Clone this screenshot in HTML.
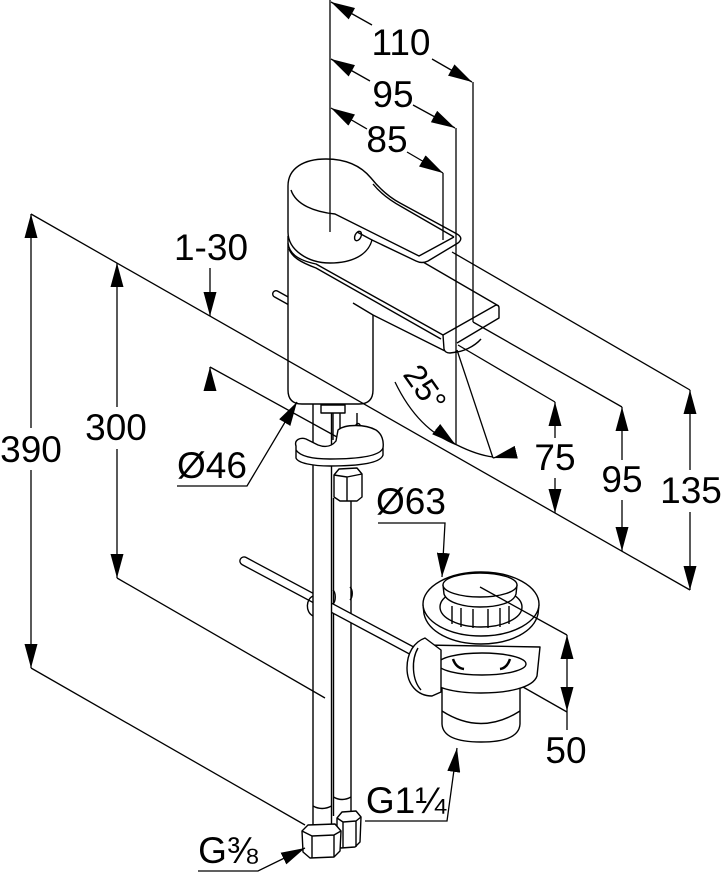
<!DOCTYPE html>
<html><head><meta charset="utf-8"><style>
html,body{margin:0;padding:0;background:#fff;}
svg{display:block;}
text{font-family:"Liberation Sans",Arial,sans-serif;font-size:37px;fill:#000;stroke:none;}
</style></head><body>
<svg width="722" height="874" viewBox="0 0 722 874" xmlns="http://www.w3.org/2000/svg">
<defs>
<marker id="a" viewBox="0 0 24 13" refX="24" refY="6.5" markerWidth="24" markerHeight="13" markerUnits="userSpaceOnUse" orient="auto-start-reverse"><path d="M0,0L24,6.5L0,13Z" fill="#000"/></marker>
</defs>
<rect width="722" height="874" fill="#fff"/>

<g fill="none" stroke="#000" stroke-width="1.4" stroke-linejoin="round">
<!-- pull rod stub -->
<line x1="276" y1="294" x2="294" y2="304" stroke-width="8" stroke-linecap="round"/>
<line x1="276" y1="294" x2="294" y2="304" stroke="#fff" stroke-width="5.2" stroke-linecap="round"/>

<!-- right hose -->
<rect x="333.5" y="498" width="17.5" height="318" fill="#fff" stroke="none"/>
<path d="M333.5,498V816M351,498V816"/>
<path d="M333.5,797Q342,802 351,797"/>

<!-- pop-up rod -->
<line x1="244" y1="561" x2="420" y2="655" stroke-width="9.5" stroke-linecap="round"/>
<line x1="244" y1="561" x2="420" y2="655" stroke="#fff" stroke-width="6.8" stroke-linecap="round"/>
<path d="M333,590C336,593 336,601 333,604M350,587C353,590 353,597 350,600"/>

<!-- left hose -->
<rect x="313" y="404" width="18.5" height="424" fill="#fff" stroke="none"/>
<path d="M313,404V828M331.5,404V828"/>
<path d="M313,596C306,599 305,612 313,616"/>
<path d="M313,806Q322,811 331.5,806"/>

<!-- shank / stud -->
<rect x="321" y="405" width="24" height="8" fill="#fff"/>
<path d="M333,413V440M340,413V440M357,413V437"/>
<ellipse cx="358" cy="427" rx="2.5" ry="3.5"/>

<!-- bracket -->
<path d="M296,446C294,440 300,437 306,439L318,445C326,448 332,446 336,441L338,430C345,424 365,424 376,430C382,434 384,441 383,448L383,455C381,462 365,466 330,466C312,466 298,463 296,458Z" fill="#fff"/>
<path d="M296,450C300,456 312,459 330,459C360,459 380,456 383,448"/>

<!-- hex nut -->
<path d="M334,475L339,469L357,468L362,474L362,497L357,501L340,501L334,497Z" fill="#fff"/>
<path d="M334,475L347,477L362,474M347,477V501"/>

<!-- body -->
<path d="M288,236L288,390Q288,404 302,404L359,404Q373,404 373,390L373,316L353,303L316,264L288,246Z" fill="#fff" stroke="none"/>
<path d="M288,236L288,390Q288,404 302,404L359,404Q373,404 373,390L373,315"/>
<path d="M353,303L373,315L445,351"/>

<!-- spout top face -->
<path d="M288,243C289,253 297,260 316,264L443,335L497,305L423,262L372,240Z" fill="#fff" stroke="none"/>
<path d="M288,243C289,253 297,260 316,264L443,335"/>
<path d="M289,249C292,257 300,262 316,268L441,339"/>
<path d="M423,262L497,305"/>
<!-- spout front -->
<path d="M443,335L496,305Q499,305 499,308L499,318L457,343"/>
<path d="M443,335L444,349Q445,353 450,353L457,352"/>
<path d="M455,352C462,352 474,347 481,339"/>

<!-- handle -->
<path d="M288,232L288,186C288,168 304,159 326,159C347,159 361,166 371,178C379,188 389,197 400,203L457,234Q464,238 458,243L428,261Q422,264 416,261L372,240C368,255 352,263 330,263C308,263 288,250 288,232Z" fill="#fff"/>
<path d="M357,232L372,240"/>
<path d="M291,190C296,205 315,212 335,214L419,256L454,237"/>
<path d="M373,184C381,194 391,201 402,207L454,237"/>
<ellipse cx="358" cy="236" rx="3" ry="5" transform="rotate(25 358 236)"/>

<!-- drain lower cylinder -->
<path d="M442,686L442,724Q443,742 481,742Q519,742 520,724L520,686Z" fill="#fff"/>
<path d="M442,711Q481,736 520,711"/>
<!-- ring -->
<path d="M423,645L427,676C431,688 455,693 481,693C507,693 533,688 537,676L540,647Z" fill="#fff"/>
<ellipse cx="482" cy="664" rx="44" ry="11" fill="#fff"/>
<path d="M453,659Q456,668 464,669M500,669Q507,668 510,659" stroke-width="2.5"/>
<!-- clevis -->
<path d="M425,638C414,642 407,653 407,668C407,684 417,696 432,696L441,692L441,650Z" fill="#fff"/>
<path d="M418,648C411,660 412,680 421,690"/>
<!-- flange -->
<path d="M423,605L424,614C428,632 452,644 481,644C510,644 534,632 538,614L539,605Z" fill="#fff"/>
<ellipse cx="481" cy="604" rx="58" ry="32" fill="#fff"/>
<ellipse cx="481" cy="607" rx="41" ry="20" fill="#fff"/>
<path d="M452,606V624M461,608V627M473,609V628M488,609V628M500,608V627M509,606V624"/>
<!-- cap -->
<path d="M443,585L444,594C447,603 465,607 480,607C497,607 514,603 516,594L517,585Z" fill="#fff"/>
<ellipse cx="480" cy="585" rx="37" ry="12" fill="#fff"/>

<!-- bottom nuts -->
<path d="M337,818L342,812L356,811L361,817L360,842L355,847L341,848L337,843Z" fill="#fff"/>
<path d="M337,818L343,822L356,821L361,817M343,822V848M356,821V847"/>
<path d="M302,831L308,825L335,824L341,831L340,851L334,857L310,858L303,852Z" fill="#fff"/>
<path d="M302,831L312,836L334,835L341,831M312,836V858M334,835V857"/>
</g>

<g fill="none" stroke="#000" stroke-width="1.3">
<!-- top dims -->
<path d="M330,0V232M443,173V240M456,128V445M473,82V322"/>
<line x1="331" y1="2" x2="372" y2="25" marker-start="url(#a)"/>
<line x1="432" y1="59" x2="472" y2="82" marker-end="url(#a)"/>
<line x1="331" y1="59" x2="370" y2="81" marker-start="url(#a)"/>
<line x1="413" y1="105" x2="455" y2="128" marker-end="url(#a)"/>
<line x1="331" y1="108" x2="367" y2="129" marker-start="url(#a)"/>
<line x1="407" y1="152" x2="443" y2="173" marker-end="url(#a)"/>

<!-- extension lines -->
<line x1="452" y1="252" x2="690" y2="390"/>
<line x1="473" y1="322" x2="622" y2="407"/>
<line x1="458" y1="345" x2="555" y2="402"/>
<line x1="31" y1="214" x2="690" y2="590"/>
<line x1="117" y1="578" x2="325" y2="698"/>
<line x1="31" y1="668" x2="305" y2="825"/>
<line x1="210" y1="367" x2="337" y2="437"/>

<!-- vertical dims -->
<line x1="31" y1="214" x2="31" y2="428" marker-start="url(#a)"/>
<line x1="31" y1="470" x2="31" y2="668" marker-end="url(#a)"/>
<line x1="117" y1="263" x2="117" y2="407" marker-start="url(#a)"/>
<line x1="117" y1="449" x2="117" y2="578" marker-end="url(#a)"/>
<line x1="555" y1="402" x2="555" y2="438" marker-start="url(#a)"/>
<line x1="555" y1="478" x2="555" y2="513" marker-end="url(#a)"/>
<line x1="622" y1="407" x2="622" y2="460" marker-start="url(#a)"/>
<line x1="622" y1="500" x2="622" y2="551" marker-end="url(#a)"/>
<line x1="690" y1="390" x2="690" y2="470" marker-start="url(#a)"/>
<line x1="690" y1="512" x2="690" y2="590" marker-end="url(#a)"/>

<!-- 1-30 -->
<line x1="210" y1="268" x2="210" y2="316" marker-end="url(#a)"/>
<line x1="210" y1="391" x2="210" y2="367" marker-end="url(#a)"/>

<!-- leaders -->
<polyline points="177,486 247,486 297,402" marker-end="url(#a)"/>
<polyline points="378,523 445,523 442,577" marker-end="url(#a)"/>
<polyline points="365,821 447,821 457,748" marker-end="url(#a)"/>
<polyline points="198,871 258,871 305,848" marker-end="url(#a)"/>

<!-- 50 -->
<line x1="480" y1="587" x2="567" y2="635"/>
<line x1="523" y1="687" x2="567" y2="712"/>
<line x1="567" y1="635" x2="567" y2="711" marker-start="url(#a)" marker-end="url(#a)"/>
<line x1="567" y1="711" x2="567" y2="730"/>

<!-- 25 degrees -->
<line x1="457" y1="350" x2="493" y2="458"/>
<path d="M395,382Q418,430 457,445Q477,455 493,457"/>
<line x1="436" y1="429" x2="455" y2="444" marker-end="url(#a)"/>
<line x1="513" y1="453" x2="493" y2="458" marker-end="url(#a)"/>
</g>

<text x="401" y="55" text-anchor="middle">110</text>
<text x="393" y="107" text-anchor="middle">95</text>
<text x="387" y="152" text-anchor="middle">85</text>
<text x="211" y="260" text-anchor="middle">1-30</text>
<text x="31" y="462" text-anchor="middle">390</text>
<text x="116" y="440" text-anchor="middle">300</text>
<text x="212" y="478" text-anchor="middle">Ø46</text>
<text x="411" y="514" text-anchor="middle">Ø63</text>
<text x="555" y="470" text-anchor="middle">75</text>
<text x="622" y="492" text-anchor="middle">95</text>
<text x="691" y="503" text-anchor="middle">135</text>
<text x="566" y="763" text-anchor="middle">50</text>
<text x="406" y="813" text-anchor="middle">G1¼</text>
<text x="228" y="863" text-anchor="middle">G⅜</text>
<text transform="translate(425,388) rotate(55)" x="0" y="11" font-size="32" text-anchor="middle" style="font-size:32px">25°</text>
</svg>
</body></html>
